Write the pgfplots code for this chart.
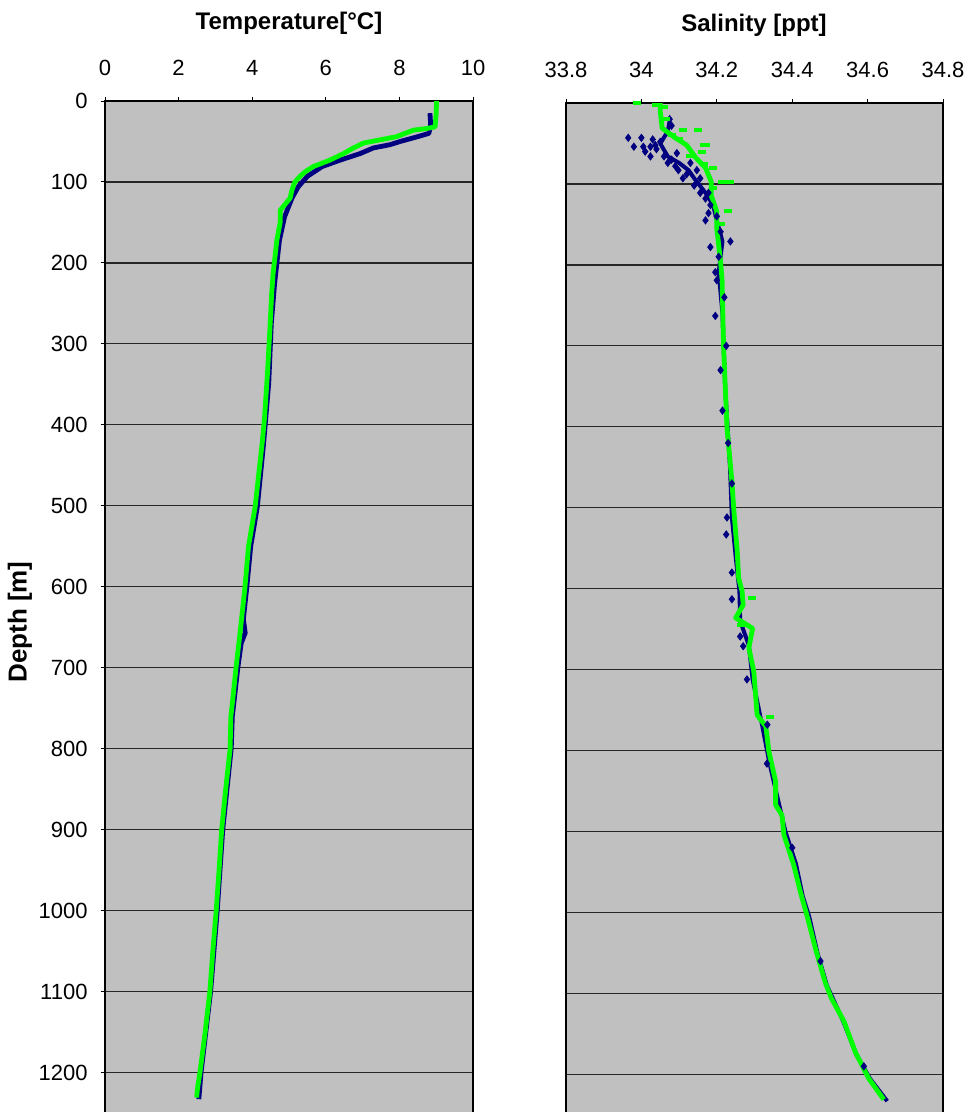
\documentclass[border=0pt]{standalone}
\usepackage{pgfplots}
\pgfplotsset{compat=1.18}
\usepackage{fontspec}
\setmainfont{Liberation Sans}
\definecolor{bgray}{HTML}{C0C0C0}
\definecolor{navyc}{HTML}{000080}
\definecolor{greenc}{HTML}{00FF00}
\pgfplotsset{
  prof/.style={
    scale only axis, height=510pt, y dir=reverse, ymin=0, ymax=1260,
    axis background/.style={fill=bgray},
    axis line style={black, line width=1pt},
    ytick={0,100,...,1200},
    ymajorgrids, grid style={black!85, line width=0.6pt},
    xtick pos=upper, xticklabel pos=upper,
    tick align=outside, major tick length=2.2pt,
    tick style={black, line width=0.5pt},
    /pgf/number format/assume math mode=true,
    /pgf/number format/1000 sep={},
    tick label style={font=\fontsize{11}{13}\selectfont},
    xticklabel style={yshift=7pt},
    yticklabel style={xshift=-3pt},
  },
}
\begin{document}
\begin{tikzpicture}
\begin{axis}[prof, at={(52.5pt,-50.5pt)}, anchor=north west, width=184pt,
  xmin=0, xmax=10, xtick={0,2,4,6,8,10}, ytick pos=left]
% navy temperature
\addplot[navyc, line width=2.4pt, line join=round] table[x index=1, y index=0] {
15 8.83
30 8.85
40 8.80
44 8.50
50 8.02
54 7.74
58 7.29
65 6.93
73 6.39
81 5.90
93 5.50
106 5.25
120 5.08
143 4.88
172 4.74
225 4.61
274 4.52
348 4.45
423 4.31
501 4.14
550 3.96
602 3.85
640 3.76
657 3.81
670 3.70
700 3.61
760 3.46
800 3.43
900 3.20
1000 3.05
1100 2.87
1200 2.61
1233 2.55
};
% green temperature
\addplot[greenc, line width=2.4pt, line join=round] table[x index=1, y index=0] {
0 9.01
15 9.00
32 8.97
34 8.74
36 8.38
40 8.15
44 7.93
48 7.47
52 7.02
58 6.75
65 6.48
73 6.11
81 5.66
87 5.45
93 5.30
100 5.16
110 5.08
120 5.03
130 4.85
135 4.76
150 4.76
172 4.67
212 4.57
237 4.53
283 4.48
340 4.41
394 4.33
423 4.27
460 4.18
501 4.08
550 3.90
602 3.80
657 3.67
700 3.56
740 3.47
760 3.42
800 3.40
850 3.28
900 3.17
950 3.10
1001 3.02
1050 2.93
1100 2.85
1151 2.72
1200 2.58
1221 2.51
1231 2.49
};
\end{axis}
\begin{axis}[prof, at={(283pt,-51.5pt)}, anchor=north west, width=188.5pt,
  xmin=33.8, xmax=34.8, xtick={33.8,34,34.2,34.4,34.6,34.8},
  xticklabels={33.8,34,34.2,34.4,34.6,34.8}, yticklabels={}, ytick style={draw=none}]
% navy salinity line
\addplot[navyc, line width=2pt, line join=round] table[x index=1, y index=0] {
22 34.075
35 34.07
50 34.05
66 34.07
74 34.10
83 34.125
93 34.14
99 34.15
111 34.17
126 34.19
145 34.20
171 34.215
209 34.205
260 34.215
350 34.222
450 34.235
512 34.24
560 34.25
603 34.26
640 34.262
670 34.285
712 34.295
768 34.32
816 34.34
860 34.362
900 34.382
940 34.41
980 34.428
1005 34.445
1050 34.467
1090 34.492
1134 34.535
1175 34.57
1205 34.606
1233 34.652
};
% navy salinity scatter
\addplot[only marks, mark=diamond*, mark size=1.8pt, navyc] table[x index=1, y index=0] {
20 34.075
28 34.08
43 33.965
43 34.0
54 33.98
54 34.005
54 34.024
52 34.037
60 34.01
45 34.03
48 34.05
57 34.04
66 34.024
66 34.06
62 34.094
70 34.08
74 34.07
74 34.13
78 34.09
83 34.098
83 34.147
88 34.12
93 34.11
93 34.156
102 34.14
111 34.156
111 34.178
118 34.17
126 34.183
136 34.178
140 34.20
145 34.17
159 34.21
171 34.236
178 34.183
190 34.205
209 34.196
219 34.20
240 34.22
263 34.196
300 34.225
330 34.21
380 34.215
420 34.23
470 34.24
512 34.227
533 34.225
580 34.24
613 34.24
659 34.262
671 34.27
712 34.28
768 34.334
816 34.333
920 34.40
1060 34.475
1190 34.59
};
% green salinity line
\addplot[greenc, line width=2.4pt, line join=round] table[x index=1, y index=0] {
0 34.05
10 34.05
31 34.055
43 34.09
52 34.12
68 34.145
80 34.17
97 34.185
114 34.185
134 34.20
155 34.20
196 34.21
219 34.214
302 34.218
401 34.227
467 34.24
502 34.245
553 34.254
587 34.258
603 34.267
620 34.27
636 34.25
649 34.295
673 34.285
702 34.298
756 34.307
770 34.33
801 34.338
838 34.356
867 34.356
880 34.373
904 34.378
941 34.404
975 34.422
1005 34.44
1045 34.462
1087 34.488
1106 34.504
1134 34.537
1173 34.568
1205 34.603
1231 34.643
};
% green salinity scatter
\addplot[only marks, mark=-, mark size=2pt, greenc, every mark/.append style={line width=2pt}] table[x index=1, y index=0] {
0 33.988
2 34.04
5 34.06
20 34.065
33 34.11
33 34.15
40 34.08
45 34.10
52 34.165
52 34.17
60 34.16
65 34.13
75 34.165
80 34.19
97 34.236
97 34.215
105 34.19
134 34.23
150 34.21
611 34.294
645 34.265
758 34.342
};
\end{axis}
\node[font=\bfseries\fontsize{12}{14}\selectfont] at (144.5pt,-11.5pt) {Temperature[°C]};
\node[font=\bfseries\fontsize{12}{14}\selectfont] at (377pt,-12.5pt) {Salinity [ppt]};
\node[font=\bfseries\fontsize{13}{15}\selectfont, rotate=90] at (10pt,-311pt) {Depth [m]};
\pgfresetboundingbox
\path[use as bounding box] (0,0) rectangle (485pt,-556pt);
\end{tikzpicture}
\end{document}
